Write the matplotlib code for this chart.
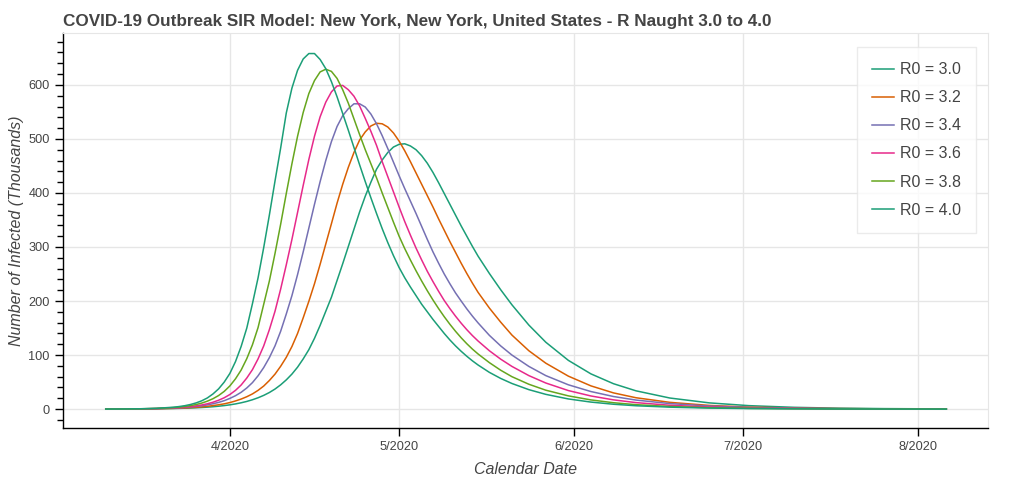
import datetime as dt
import matplotlib
matplotlib.use("Agg")
import matplotlib.pyplot as plt
from matplotlib.ticker import MultipleLocator

plt.rcParams['font.family'] = ['Liberation Sans', 'DejaVu Sans']

# fechas compartidas por todas las series
fechas = ["2020-03-10", "2020-03-13", "2020-03-16", "2020-03-19",
          "2020-03-22", "2020-03-23", "2020-03-24", "2020-03-25", "2020-03-26",
          "2020-03-27", "2020-03-28", "2020-03-29", "2020-03-30", "2020-03-31",
          "2020-04-01", "2020-04-02", "2020-04-03", "2020-04-04", "2020-04-05",
          "2020-04-06", "2020-04-07", "2020-04-08", "2020-04-09", "2020-04-10",
          "2020-04-11", "2020-04-12", "2020-04-13", "2020-04-14", "2020-04-15",
          "2020-04-16", "2020-04-17", "2020-04-18", "2020-04-19", "2020-04-20",
          "2020-04-21", "2020-04-22", "2020-04-23", "2020-04-24", "2020-04-25",
          "2020-04-26", "2020-04-27", "2020-04-28", "2020-04-29", "2020-04-30",
          "2020-05-01", "2020-05-02", "2020-05-03", "2020-05-04", "2020-05-05",
          "2020-05-06", "2020-05-07", "2020-05-08", "2020-05-09", "2020-05-10",
          "2020-05-11", "2020-05-12", "2020-05-13", "2020-05-14", "2020-05-15",
          "2020-05-17", "2020-05-19", "2020-05-21", "2020-05-24", "2020-05-27",
          "2020-05-31", "2020-06-04", "2020-06-08", "2020-06-12", "2020-06-18",
          "2020-06-25", "2020-07-02", "2020-07-10", "2020-07-18", "2020-07-26",
          "2020-08-06"]

# infectados (miles)
r30 = [0.11, 0.19, 0.35, 0.62,
       1.12, 1.36, 1.65, 2.02, 2.45, 2.98, 3.62, 4.4, 5.35, 6.5,
       7.9, 9.6, 11.7, 14.2, 17.3, 21.0, 25.4, 30.7, 37.1, 44.9,
       54.1, 64.8, 77.6, 92.9, 110, 131, 155, 181, 207, 238,
       269, 301, 333, 365, 394, 420, 444, 461, 475, 485,
       490, 491, 487, 480, 469, 455, 438, 419, 399, 379,
       359, 339, 320, 301, 283,
       251, 221, 193, 155.5, 123.8, 90.2, 65.2, 47, 33.8, 20.5, 11.5, 6.4, 3.3,
       1.7, 0.9, 0.35]
r32 = [0.11, 0.20, 0.38, 0.73,
       1.4, 1.74, 2.15, 2.7, 3.3, 4.1, 5.1, 6.5, 8.0, 9.75,
       12.1, 15.1, 18.6, 22.9, 28.1, 34.7, 42.7, 52.9, 64.7, 79.2,
       95.8, 115.8, 140, 169, 199.5, 232, 268, 305.5, 343, 381,
       416, 447.5, 475, 498, 513, 524, 529, 528, 522, 511,
       496, 478, 458, 437, 416, 395, 374, 352, 331, 310,
       290, 270, 251, 233, 216,
       187, 161, 137, 108, 85, 61, 43, 30, 21, 12.5, 6.8, 3.7, 1.9, 1, 0.5, 0.2]
r34 = [0.11, 0.23, 0.46, 0.93,
       1.88, 2.4, 3.0, 3.8, 4.85, 6.1, 7.8, 9.9, 12.4, 15.6,
       19.8, 24.8, 31.1, 39.1, 49, 61.7, 76.9, 95.2, 117, 144,
       176, 210, 249, 291, 335, 379, 421, 460, 495, 523,
       543, 556, 565, 565, 559, 546, 528, 506, 482, 457,
       432, 408, 385, 362, 338, 314, 291, 270, 250, 232,
       215, 200, 185.5, 172, 159.5,
       136.5, 117, 100, 79, 62, 45, 32.5, 23.3, 16.7, 10.2, 5.7, 3.2, 1.65,
       0.85, 0.45, 0.18]
r36 = [0.10, 0.21, 0.45, 0.98,
       2.1, 2.7, 3.5, 4.5, 5.9, 7.6, 9.8, 12.7, 16.4, 21,
       27, 34.7, 44.6, 57.5, 73, 93, 117, 147, 181, 222,
       267, 314, 364, 414, 462, 505, 541, 568, 587, 598,
       599, 591, 579, 561, 538, 514, 488, 458, 430, 402,
       374, 347, 322, 298, 276, 255, 236, 218, 201, 186,
       172, 159, 147, 136, 126,
       108, 92.5, 79, 62, 48.3, 34.3, 24.3, 17.1, 12, 7.1, 3.9, 2.1, 1.05,
       0.53, 0.27, 0.1]
r38 = [0.10, 0.23, 0.53, 1.23,
       2.83, 3.72, 4.9, 6.4, 8.4, 11.1, 14.7, 19.2, 25.1, 32.8,
       42.9, 56.1, 72.3, 93.4, 119, 151, 194, 237, 288, 342,
       399, 454, 505, 549, 584, 608, 624, 629, 625, 612,
       591, 566, 537, 508, 480, 454, 428, 400, 373, 346,
       320, 297, 276, 256, 237, 219, 202, 186, 171, 157,
       144, 132, 121, 111, 102,
       86, 72, 60, 46, 35, 24.5, 17, 11.8, 8.2, 4.8, 2.6, 1.4, 0.7, 0.35, 0.2, 0.1]
r40 = [0.10, 0.24, 0.59, 1.44,
       3.5, 4.7, 6.3, 8.5, 11.4, 15.3, 20.6, 28, 37.4, 50,
       66, 88, 116, 150, 195, 243, 299, 359, 422, 483,
       548, 594, 627, 648, 658, 658, 647, 630, 606, 578,
       547, 516, 484, 452, 421, 391, 362, 334, 308, 284,
       262, 243, 226, 210, 194, 180, 166, 153, 140, 128,
       117, 107, 97.8, 89.3, 81.6,
       68, 56.8, 47.4, 36, 27.3, 18.8, 13, 9, 6.2, 3.6, 1.9, 1, 0.5, 0.25, 0.13, 0.05]

series = [r30, r32, r34, r36, r38, r40]
etiquetas = ['R0 = 3.0', 'R0 = 3.2', 'R0 = 3.4', 'R0 = 3.6', 'R0 = 3.8', 'R0 = 4.0']
cores = ['#1b9e77', '#d95f02', '#7570b3', '#e7298a', '#66a61e', '#1b9e77']

meses = ["2020-04-01", "2020-05-01", "2020-06-01", "2020-07-01", "2020-08-01"]
meses_txt = ['4/2020', '5/2020', '6/2020', '7/2020', '8/2020']

x = [dt.datetime.strptime(f, "%Y-%m-%d") for f in fechas]

fig = plt.figure(figsize=(10.24, 4.82), dpi=100)
ax = fig.add_axes([0.0615, 0.112, 0.9035, 0.8195])

for s, lab, c in zip(series, etiquetas, cores):
    ax.plot(x, s, color=c, lw=1.1, label=lab)

ax.set_xlim(dt.datetime(2020, 3, 2, 10), dt.datetime(2020, 8, 13, 10))
ax.set_ylim(-35, 696)

ax.set_xticks([dt.datetime.strptime(m, "%Y-%m-%d") for m in meses])
ax.set_xticklabels(meses_txt)
ax.yaxis.set_major_locator(MultipleLocator(100))
ax.yaxis.set_minor_locator(MultipleLocator(20))

ax.grid(True, color='#e6e6e6', lw=1)
ax.set_axisbelow(True)
for lado in ['top', 'right']:
    ax.spines[lado].set_color('#e6e6e6')
for lado in ['left', 'bottom']:
    ax.spines[lado].set_color('black')
    ax.spines[lado].set_linewidth(1)

ax.tick_params(axis='both', which='major', length=6, width=1, color='black',
               labelsize=9.2, labelcolor='#444444')
ax.tick_params(axis='y', which='minor', length=4, width=1, color='black')

ax.set_xlabel('Calendar Date', style='italic', fontsize=11.5, color='#444444', labelpad=6)
ax.set_ylabel('Number of Infected (Thousands)', style='italic', fontsize=11.5,
              color='#444444', labelpad=3)
ax.set_title('COVID-19 Outbreak SIR Model: New York, New York, United States - R Naught 3.0 to 4.0',
             loc='left', fontsize=12.3, fontweight='bold', color='#444444', pad=5)

leg = ax.legend(loc='upper right', bbox_to_anchor=(0.987, 0.9646), borderaxespad=0,
                fontsize=11.5, frameon=True, fancybox=False, handlelength=1.4,
                labelspacing=0.82, borderpad=0.95, handletextpad=0.35,
                labelcolor='#444444')
leg.get_frame().set_edgecolor('#e6e6e6')
leg.get_frame().set_linewidth(1)

fig.savefig('out.png', dpi=100)
